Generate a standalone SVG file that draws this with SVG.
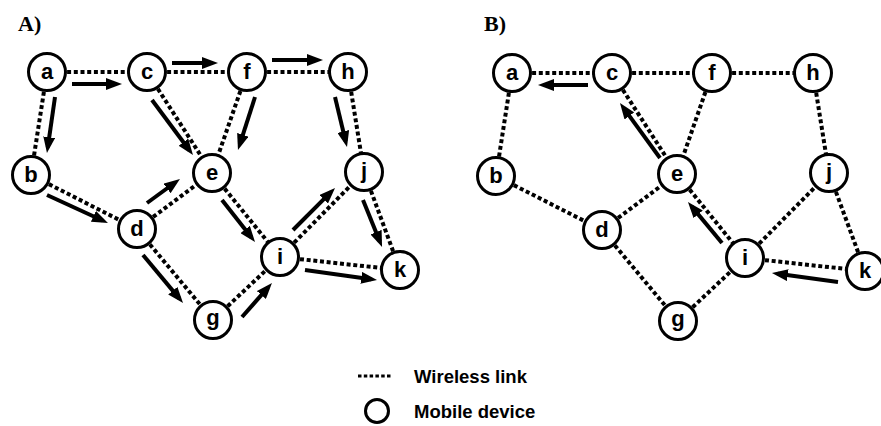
<svg xmlns="http://www.w3.org/2000/svg" width="881" height="426" viewBox="0 0 881 426">
<style>
.link{stroke:#000;stroke-width:4;stroke-dasharray:4 2.7;fill:none}
.arr{stroke:#000;stroke-width:4;fill:none;marker-end:url(#ah)}
.node circle{fill:#fff;stroke:#000;stroke-width:3}
.node text{font-family:"Liberation Sans",Arial,sans-serif;font-weight:bold;font-size:22px;text-anchor:middle;fill:#000}
.title{font-family:"Liberation Serif","Times New Roman",serif;font-weight:bold;font-size:22px;fill:#000}
.leg{font-family:"Liberation Sans",Arial,sans-serif;font-weight:bold;font-size:18.5px;fill:#000}
</style>
<defs>
<marker id="ah" markerUnits="userSpaceOnUse" markerWidth="16" markerHeight="12" refX="10" refY="6" orient="auto">
<path d="M0,0 L16,6 L0,12 z" fill="#000"/>
</marker>
</defs>
<rect width="881" height="426" fill="#fff"/>
<text class="title" x="18" y="31">A)</text>
<text class="title" x="484" y="31">B)</text>

<g id="connectors">
<g id="linksA">
<line class="link" x1="47" y1="72" x2="147" y2="72"/>
<line class="link" x1="47" y1="72" x2="31" y2="175"/>
<line class="link" x1="147" y1="72" x2="247" y2="72"/>
<line class="link" x1="147" y1="72" x2="212" y2="173"/>
<line class="link" x1="247" y1="72" x2="348" y2="72"/>
<line class="link" x1="247" y1="72" x2="212" y2="173"/>
<line class="link" x1="348" y1="72" x2="364" y2="172"/>
<line class="link" x1="31" y1="175" x2="137" y2="229"/>
<line class="link" x1="137" y1="229" x2="212" y2="173"/>
<line class="link" x1="137" y1="229" x2="213" y2="320"/>
<line class="link" x1="212" y1="173" x2="280" y2="257"/>
<line class="link" x1="280" y1="257" x2="364" y2="172"/>
<line class="link" x1="364" y1="172" x2="400" y2="270"/>
<line class="link" x1="280" y1="257" x2="400" y2="270"/>
<line class="link" x1="213" y1="320" x2="280" y2="257"/>
</g>
<g id="linksB">
<line class="link" x1="512" y1="73" x2="612" y2="73"/>
<line class="link" x1="512" y1="73" x2="496" y2="176"/>
<line class="link" x1="612" y1="73" x2="712" y2="73"/>
<line class="link" x1="612" y1="73" x2="677" y2="174"/>
<line class="link" x1="712" y1="73" x2="813" y2="73"/>
<line class="link" x1="712" y1="73" x2="677" y2="174"/>
<line class="link" x1="813" y1="73" x2="829" y2="173"/>
<line class="link" x1="496" y1="176" x2="602" y2="230"/>
<line class="link" x1="602" y1="230" x2="677" y2="174"/>
<line class="link" x1="602" y1="230" x2="678" y2="321"/>
<line class="link" x1="677" y1="174" x2="745" y2="258"/>
<line class="link" x1="745" y1="258" x2="829" y2="173"/>
<line class="link" x1="829" y1="173" x2="865" y2="271"/>
<line class="link" x1="745" y1="258" x2="865" y2="271"/>
<line class="link" x1="678" y1="321" x2="745" y2="258"/>
</g>
<g id="arrowsA">
<line class="arr" x1="72" y1="84" x2="116" y2="84"/>
<line class="arr" x1="172" y1="63" x2="212" y2="63"/>
<line class="arr" x1="272" y1="60" x2="317" y2="60"/>
<line class="arr" x1="55" y1="97" x2="47.8" y2="147.1"/>
<line class="arr" x1="152" y1="100" x2="189.4" y2="150.2"/>
<line class="arr" x1="255" y1="97" x2="239.8" y2="144.3"/>
<line class="arr" x1="335" y1="97" x2="345.6" y2="141.2"/>
<line class="arr" x1="47" y1="195" x2="102.5" y2="220.5"/>
<line class="arr" x1="147" y1="203" x2="175.1" y2="182.5"/>
<line class="arr" x1="143" y1="255" x2="179.2" y2="298.4"/>
<line class="arr" x1="222" y1="200" x2="251.3" y2="237.3"/>
<line class="arr" x1="293" y1="230" x2="330.8" y2="192.2"/>
<line class="arr" x1="363" y1="200" x2="379.8" y2="241.4"/>
<line class="arr" x1="305" y1="270" x2="371.1" y2="279.2"/>
<line class="arr" x1="242" y1="317" x2="268" y2="287.5"/>
</g>
<g id="arrowsB">
<line class="arr" x1="588" y1="85" x2="544" y2="85"/>
<line class="arr" x1="660" y1="158" x2="623.5" y2="107.9"/>
<line class="arr" x1="722" y1="243" x2="691.8" y2="206.6"/>
<line class="arr" x1="838" y1="282" x2="777.9" y2="273.8"/>
</g>
</g>

<g id="nodesA">
<g id="A-a" class="node"><circle cx="47" cy="72" r="18.5"/><text x="47" y="79">a</text></g>
<g id="A-b" class="node"><circle cx="31" cy="175" r="18.5"/><text x="31" y="182">b</text></g>
<g id="A-c" class="node"><circle cx="147" cy="72" r="18.5"/><text x="147" y="79">c</text></g>
<g id="A-d" class="node"><circle cx="137" cy="229" r="18.5"/><text x="137" y="236">d</text></g>
<g id="A-e" class="node"><circle cx="212" cy="173" r="18.5"/><text x="212" y="180">e</text></g>
<g id="A-f" class="node"><circle cx="247" cy="72" r="18.5"/><text x="247" y="79">f</text></g>
<g id="A-g" class="node"><circle cx="213" cy="320" r="18.5"/><text x="213" y="325">g</text></g>
<g id="A-h" class="node"><circle cx="348" cy="72" r="18.5"/><text x="348" y="79">h</text></g>
<g id="A-i" class="node"><circle cx="280" cy="257" r="18.5"/><text x="280" y="264">i</text></g>
<g id="A-j" class="node"><circle cx="364" cy="172" r="18.5"/><text x="364" y="178">j</text></g>
<g id="A-k" class="node"><circle cx="400" cy="270" r="18.5"/><text x="400" y="277">k</text></g>
</g>
<g id="nodesB">
<g id="B-a" class="node"><circle cx="512" cy="73" r="18.5"/><text x="512" y="80">a</text></g>
<g id="B-b" class="node"><circle cx="496" cy="176" r="18.5"/><text x="496" y="183">b</text></g>
<g id="B-c" class="node"><circle cx="612" cy="73" r="18.5"/><text x="612" y="80">c</text></g>
<g id="B-d" class="node"><circle cx="602" cy="230" r="18.5"/><text x="602" y="237">d</text></g>
<g id="B-e" class="node"><circle cx="677" cy="174" r="18.5"/><text x="677" y="181">e</text></g>
<g id="B-f" class="node"><circle cx="712" cy="73" r="18.5"/><text x="712" y="80">f</text></g>
<g id="B-g" class="node"><circle cx="678" cy="321" r="18.5"/><text x="678" y="326">g</text></g>
<g id="B-h" class="node"><circle cx="813" cy="73" r="18.5"/><text x="813" y="80">h</text></g>
<g id="B-i" class="node"><circle cx="745" cy="258" r="18.5"/><text x="745" y="265">i</text></g>
<g id="B-j" class="node"><circle cx="829" cy="173" r="18.5"/><text x="829" y="179">j</text></g>
<g id="B-k" class="node"><circle cx="865" cy="271" r="18.5"/><text x="865" y="278">k</text></g>
</g>

<g id="legend">
<line x1="358" y1="376" x2="391" y2="376" stroke="#000" stroke-width="3" stroke-dasharray="3.5 2.3"/>
<text class="leg" x="414" y="383">Wireless link</text>
<circle cx="377" cy="411" r="11.5" fill="#fff" stroke="#000" stroke-width="3"/>
<text class="leg" x="414" y="418">Mobile device</text>
</g>
</svg>
